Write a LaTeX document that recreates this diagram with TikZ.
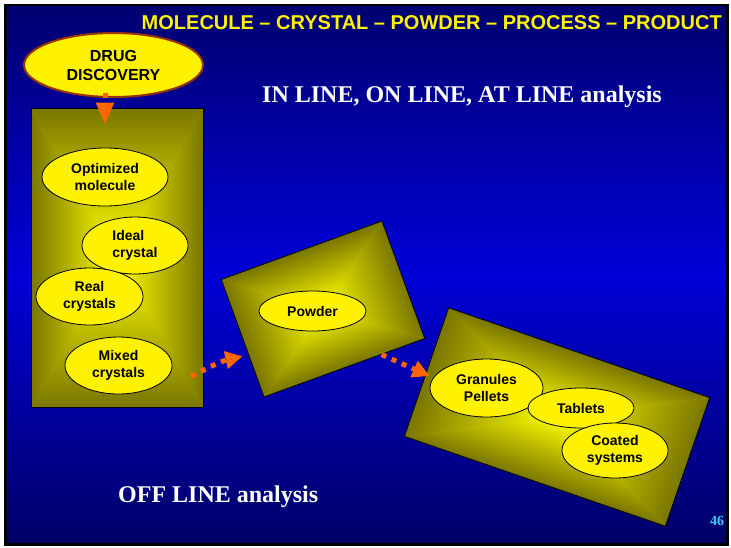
\documentclass[tikz,border=0pt]{standalone}
\usepackage{fontspec}
\setmainfont{Liberation Serif}
\setsansfont{Liberation Sans}
\usetikzlibrary{shapes.geometric,arrows.meta,calc}

\definecolor{bgtop}{RGB}{0,0,112}
\definecolor{bgmid}{RGB}{0,0,215}
\definecolor{bgbot}{RGB}{0,0,104}
\definecolor{boxdark}{RGB}{122,118,0}
\definecolor{boxlight}{RGB}{255,255,0}
\definecolor{boxmid}{RGB}{186,184,0}
\definecolor{flowcol}{RGB}{255,102,0}
\definecolor{drugrim}{RGB}{153,51,0}
\definecolor{pagecol}{RGB}{51,204,255}

\newcommand\blobfont{\sffamily\bfseries\fontsize{14}{17}\selectfont}
\newcommand\slidefont{\rmfamily\bfseries\fontsize{24}{28}\selectfont}
% box with a gradient running from the rim to the centre
\newcommand\gradbox[6]{
  \begin{scope}[transform canvas={shift={(#2,#3)}, rotate=#6}]
    \fill[boxmid] (-#4/2,-#5/2) rectangle (#4/2,#5/2);
    \shade[top color=boxdark, bottom color=boxlight] (0,0) -- (-#4/2,-#5/2) -- (#4/2,-#5/2) -- cycle;
    \shade[top color=boxlight, bottom color=boxdark] (0,0) -- (-#4/2,#5/2) -- (#4/2,#5/2) -- cycle;
    \shade[left color=boxdark, right color=boxlight] (0,0) -- (-#4/2,-#5/2) -- (-#4/2,#5/2) -- cycle;
    \shade[left color=boxlight, right color=boxdark] (0,0) -- (#4/2,-#5/2) -- (#4/2,#5/2) -- cycle;
  \end{scope}
  \node[box, rotate=#6, minimum width=#4pt, minimum height=#5pt] (#1) at (#2,#3) {};
}

\tikzset{
  blob/.style={ellipse, draw=black, line width=.8pt, fill=yellow, inner sep=0pt, align=center, font=\blobfont},
  box/.style={rectangle, draw=black, line width=.8pt, inner sep=0pt},
  flow/.style={draw=flowcol, line width=5pt, dash pattern=on 5pt off 6pt, -{Triangle[length=17pt,width=17pt]}},
  slidetext/.style={inner sep=0pt, text=white, font=\slidefont},
}

\begin{document}
\begin{tikzpicture}[x=1pt, y=-1pt]
  \useasboundingbox (0,0) rectangle (731,547);
  \fill[white] (0,0) rectangle (731,547);
  \fill[black] (4,4) rectangle (729,546);
  \shade[top color=bgtop, bottom color=bgbot, middle color=bgmid] (7,6) rectangle (726,542);

  \node[inner sep=0pt, anchor=base east, text=yellow, font=\sffamily\bfseries\fontsize{20}{24}\selectfont] (title) at (722,29)
    {MOLECULE -- CRYSTAL -- POWDER -- PROCESS -- PRODUCT};
  \node[slidetext, anchor=base west] (inline) at (262,102) {IN LINE, ON LINE, AT LINE analysis};
  \node[slidetext, anchor=base west] (offline) at (118,502) {OFF LINE analysis};
  \node[inner sep=0pt, anchor=base, text=pagecol, font=\rmfamily\bfseries\fontsize{14}{16}\selectfont] (page) at (717,525) {46};

  \gradbox{leftbox}{117}{257.5}{172}{299}{0}
  \gradbox{powderbox}{323}{309}{171}{125}{20}
  \gradbox{productbox}{557}{417}{276}{136}{-19}

  \node[blob, draw=drugrim, line width=2pt, minimum width=179pt, minimum height=64pt,
        font=\sffamily\bfseries\fontsize{16}{19}\selectfont] (drug) at (113.5,65) {DRUG\\DISCOVERY};

  \node[blob, minimum width=126pt, minimum height=58pt] (optimized) at (105,177) {Optimized\\molecule};
  \node[blob, minimum width=106pt, minimum height=57pt, align=left] (ideal) at (135,245.5) {Ideal\\crystal};
  \node[blob, minimum width=107pt, minimum height=57pt] (real) at (89.5,296.5) {Real\\crystals};
  \node[blob, minimum width=107pt, minimum height=57pt] (mixed) at (118.5,365.5) {Mixed\\crystals};

  \node[blob, minimum width=107pt, minimum height=40pt] (powder) at (312.5,311) {Powder};

  \node[blob, minimum width=113pt, minimum height=58pt] (granules) at (486.5,388) {Granules\\Pellets};
  \node[blob, minimum width=106pt, minimum height=40pt] (tablets) at (581,408) {Tablets};
  \node[blob, minimum width=106pt, minimum height=55pt] (coated) at (615,450.5) {Coated\\systems};

  % arrows
  \coordinate (dropstart) at ($(drug.south)+(-8.5,-5)$);
  \draw[flow, -{Triangle[length=22pt,width=17pt]}] (dropstart) -- ($(dropstart |- leftbox.north)+(0,17)$);
  \draw[flow, shorten >=6pt] ($(mixed.east)+(19,11)$) to[bend left=8]
    ($(powderbox.north west)!0.64!(powderbox.south west)$);
  \draw[flow] ($(powderbox.south east)!0.27!(powderbox.south west)$) -- ($(granules.west)+(0,-12)$);
\end{tikzpicture}
\end{document}
